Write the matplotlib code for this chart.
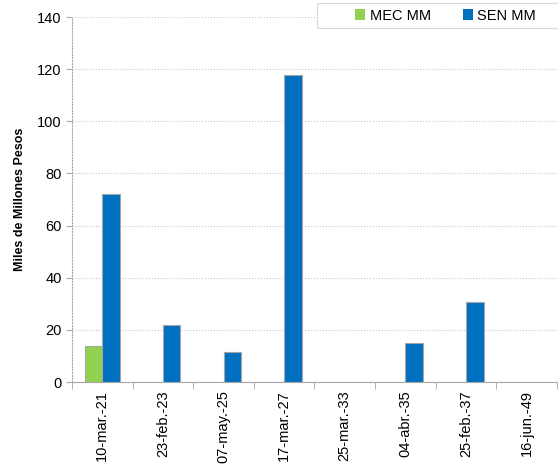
import numpy as np
import matplotlib.pyplot as plt
from matplotlib.patches import Rectangle

plt.rcParams['font.family'] = ['Liberation Sans', 'DejaVu Sans']

fechas = ['10-mar.-21', '23-feb.-23', '07-may.-25', '17-mar.-27',
          '25-mar.-33', '04-abr.-35', '25-feb.-37', '16-jun.-49']
mec_mm = [13.8, 0, 0, 0, 0, 0, 0, 0]
sen_mm = [72.2, 22.0, 11.5, 117.6, 0, 14.9, 30.7, 0]

fig = plt.figure(figsize=(5.58, 4.74), dpi=100)
ax = fig.add_axes([0.129, 0.194, 0.869, 0.77])

x = np.arange(len(fechas))
w = 0.29
ax.bar(x - w / 2, mec_mm, w, color='#92D050', edgecolor='#A6A6A6', linewidth=0.8,
       label='MEC MM', zorder=3)
ax.bar(x + w / 2, sen_mm, w, color='#0070C0', edgecolor='#A6A6A6', linewidth=0.8,
       label='SEN MM', zorder=3)
# barras en cero no se dibujan
for p in ax.patches:
    if p.get_height() == 0:
        p.set_visible(False)

ax.set_xlim(-0.5, len(fechas) - 0.5)
ax.set_ylim(0, 140)
ax.set_yticks(range(0, 141, 20))
ax.set_xticks(x)
ax.set_xticklabels(fechas, rotation=90, fontsize=10.5)
ax.set_xticks(np.arange(-0.5, len(fechas), 1), minor=True)
ax.tick_params(axis='x', which='major', length=0, pad=6)
ax.tick_params(axis='x', which='minor', length=5, color='#A6A6A6')
ax.tick_params(axis='y', length=4, color='#A6A6A6', labelsize=10.5)
ax.yaxis.grid(True, linestyle=':', color='#C8C8C8', linewidth=0.8, zorder=0)

for s in ['top', 'right']:
    ax.spines[s].set_visible(False)
for s in ['left', 'bottom']:
    ax.spines[s].set_color('#A6A6A6')
ax.spines['left'].set_linestyle(':')

ax.set_ylabel('Miles de Millones Pesos', fontsize=9, fontweight='bold', labelpad=8)

# marco de la leyenda
fig.patches.append(Rectangle((317 / 558, 1 - 28 / 474), 241 / 558, 25 / 474,
                             transform=fig.transFigure, facecolor='white',
                             edgecolor='#D9D9D9', linewidth=0.8, zorder=5))
leg = fig.legend(loc='center left', bbox_to_anchor=(355 / 558, 1 - 15.5 / 474), ncol=2,
                 fontsize=10.5, frameon=False, handlelength=0.7,
                 handleheight=0.7, handletextpad=0.3, columnspacing=2.2,
                 borderpad=0, borderaxespad=0)
leg.set_zorder(6)
for h in leg.legend_handles:
    h.set_edgecolor('none')

fig.savefig('out.png', dpi=100)
